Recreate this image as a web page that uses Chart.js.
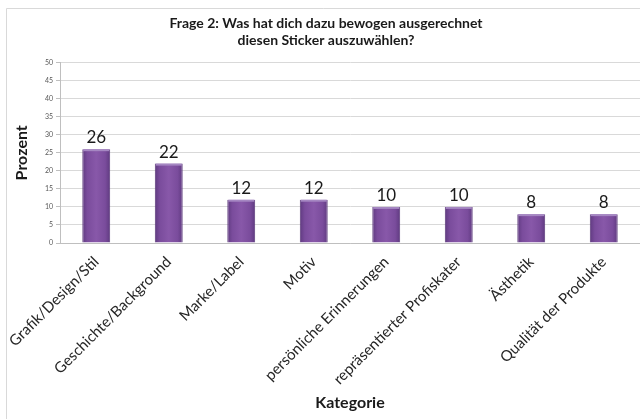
<!DOCTYPE html>
<html>
<head>
<meta charset="utf-8">
<script src="https://cdn.jsdelivr.net/npm/chart.js@4.4.0/dist/chart.umd.min.js"></script>
<style>
  html, body { margin: 0; padding: 0; background: #fff; }
  #wrap { width: 640px; height: 419px; position: relative; }
</style>
</head>
<body>
<div id="wrap"><canvas id="chart" width="640" height="419"></canvas></div>
<script>
var categories = ["Grafik/Design/Stil", "Geschichte/Background", "Marke/Label", "Motiv",
  "persönliche Erinnerungen", "repräsentierter Profiskater", "Ästhetik", "Qualität der Produkte"];
var percentValues = [26, 22, 12, 12, 10, 10, 8, 8];
var yTicks = [0, 5, 10, 15, 20, 25, 30, 35, 40, 45, 50];

var BAR_PCT = 0.385;

// frame line round the chart, like the office export
var framePlugin = {
  id: "frame",
  beforeDraw: function (chart) {
    var ctx = chart.ctx;
    ctx.save();
    ctx.fillStyle = "#fff";
    ctx.fillRect(0, 0, chart.width, chart.height);
    ctx.strokeStyle = "#d9d9d9";
    ctx.lineWidth = 1;
    ctx.beginPath();
    ctx.moveTo(6.5, chart.height);
    ctx.lineTo(6.5, 8.5);
    ctx.lineTo(chart.width, 8.5);
    ctx.stroke();
    ctx.restore();
  }
};

// numbers above the bars + light cap on each bar
var valueLabels = {
  id: "valueLabels",
  afterDatasetsDraw: function (chart) {
    var ctx = chart.ctx;
    var meta = chart.getDatasetMeta(0);
    ctx.save();
    meta.data.forEach(function (bar, i) {
      ctx.fillStyle = "#a587c2";
      ctx.fillRect(bar.x - bar.width / 2 + 1, bar.y, bar.width - 2, 2);
      ctx.font = "17px Lato";
      ctx.fillStyle = "#1a1a1a";
      ctx.textAlign = "center";
      ctx.textBaseline = "bottom";
      ctx.fillText(percentValues[i], bar.x, bar.y - 3);
    });
    ctx.restore();
  }
};

var barFill = function (context) {
  var chart = context.chart;
  var area = chart.chartArea;
  if (!area) return "#7a4c9c";
  var x = chart.scales.x.getPixelForValue(context.dataIndex);
  var w = (area.right - area.left) / categories.length * BAR_PCT;
  var g = chart.ctx.createLinearGradient(x - w / 2, 0, x + w / 2, 0);
  g.addColorStop(0, "#5f3a80");
  g.addColorStop(0.18, "#7a4c9c");
  g.addColorStop(0.5, "#8858a9");
  g.addColorStop(0.82, "#7a4c9c");
  g.addColorStop(1, "#5f3a80");
  return g;
};

new Chart(document.getElementById("chart"), {
  type: "bar",
  data: {
    labels: categories,
    datasets: [{
      data: percentValues,
      backgroundColor: barFill,
      borderColor: "#5a3779",
      borderWidth: { top: 0, left: 1, right: 1, bottom: 0 },
      borderSkipped: false,
      barPercentage: BAR_PCT,
      categoryPercentage: 1
    }]
  },
  options: {
    responsive: false,
    animation: false,
    layout: { padding: { left: 12, right: 0, top: 6, bottom: 4 } },
    plugins: {
      legend: { display: false },
      tooltip: { enabled: false },
      title: {
        display: true,
        text: ["Frage 2: Was hat dich dazu bewogen ausgerechnet", "diesen Sticker auszuwählen?"],
        font: { family: "Lato", size: 14, weight: "bold" },
        color: "#1a1a1a",
        lineHeight: 1.45,
        padding: { top: 9, bottom: 14 }
      }
    },
    scales: {
      x: {
        grid: { display: false },
        border: { display: true, color: "#bfbfbf" },
        ticks: {
          autoSkip: false,
          minRotation: 45,
          maxRotation: 45,
          padding: 2,
          color: "#262626",
          font: { family: "Lato", size: 15 }
        },
        title: {
          display: true,
          text: "Kategorie",
          color: "#1a1a1a",
          font: { family: "Lato", size: 16, weight: "bold" },
          padding: { top: 0, bottom: 3 }
        },
        afterFit: function (scale) { scale.height = 172; }
      },
      y: {
        min: 0,
        max: 50,
        afterBuildTicks: function (scale) {
          scale.ticks = yTicks.map(function (v) { return { value: v }; });
        },
        grid: { color: "#d9d9d9", tickLength: 4, tickColor: "#bfbfbf" },
        border: { display: true, color: "#bfbfbf" },
        ticks: {
          padding: 3,
          color: "#595959",
          font: { family: "Lato", size: 7 }
        },
        title: {
          display: true,
          text: "Prozent",
          color: "#1a1a1a",
          font: { family: "Lato", size: 16, weight: "bold" },
          padding: { top: 0, bottom: 4 }
        },
        afterFit: function (scale) { scale.width = 48; }
      }
    }
  },
  plugins: [framePlugin, valueLabels]
});
</script>
</body>
</html>
